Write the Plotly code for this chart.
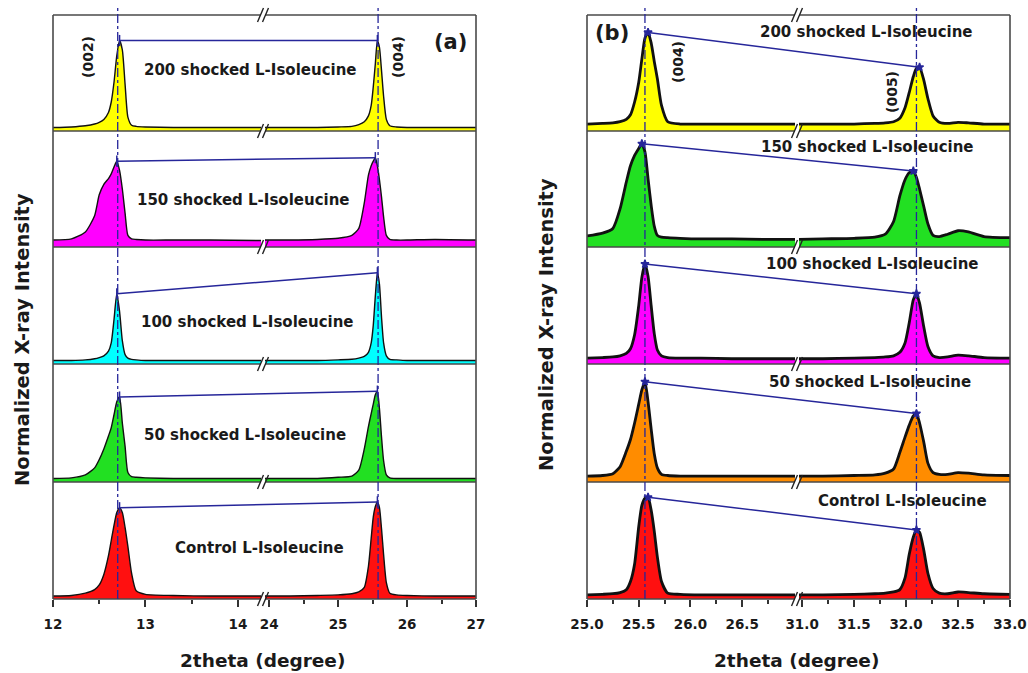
import numpy as np
import plotly.graph_objects as go

W, H = 1028, 673

# ---------------- data (normalized intensity within each stacked sub-panel) ----------------
SAMPLES = ["200 shocked L-Isoleucine", "150 shocked L-Isoleucine", "100 shocked L-Isoleucine",
           "50 shocked L-Isoleucine", "Control L-Isoleucine"]
COLORS_A = ["#ffff00", "#ff00ff", "#00ffff", "#22e022", "#ff1010"]
COLORS_B = ["#ffff00", "#22e022", "#ff00ff", "#ff8c00", "#ff1010"]

# panel (a), low-angle segment
XA_L = [12.00, 12.20, 12.35, 12.45, 12.50, 12.55, 12.60, 12.63, 12.66, 12.69, 12.72, 12.75, 12.78,
        12.81, 12.85, 12.90, 13.00, 13.30, 13.70, 14.30]
A200_L = [0.03, 0.035, 0.045, 0.06, 0.075, 0.10, 0.16, 0.25, 0.42, 0.65, 0.78, 0.70, 0.40, 0.12, 0.05, 0.04, 0.035, 0.03, 0.03, 0.03]
A150_L = [0.06, 0.07, 0.13, 0.27, 0.45, 0.54, 0.59, 0.63, 0.69, 0.74, 0.66, 0.50, 0.29, 0.10, 0.07, 0.065, 0.06, 0.06, 0.06, 0.055]
A100_L = [0.03, 0.03, 0.035, 0.045, 0.055, 0.07, 0.11, 0.18, 0.38, 0.60, 0.45, 0.20, 0.08, 0.05, 0.04, 0.035, 0.03, 0.03, 0.03, 0.03]
A50_L = [0.03, 0.035, 0.06, 0.12, 0.19, 0.28, 0.39, 0.46, 0.57, 0.68, 0.72, 0.50, 0.30, 0.08, 0.045, 0.04, 0.035, 0.03, 0.03, 0.03]
A0_L = [0.025, 0.03, 0.05, 0.08, 0.12, 0.21, 0.37, 0.50, 0.63, 0.74, 0.78, 0.74, 0.61, 0.45, 0.22, 0.07, 0.04, 0.03, 0.025, 0.025]

# panel (a), high-angle segment
XA_R = [23.90, 24.30, 24.70, 25.00, 25.20, 25.30, 25.38, 25.44, 25.48, 25.51, 25.54, 25.57, 25.60,
        25.63, 25.66, 25.70, 25.75, 25.85, 26.00, 26.40, 27.00]
A200_R = [0.03, 0.03, 0.03, 0.035, 0.04, 0.055, 0.08, 0.13, 0.22, 0.38, 0.58, 0.78, 0.72, 0.52, 0.30, 0.10, 0.045, 0.035, 0.03, 0.03, 0.03]
A150_R = [0.06, 0.06, 0.065, 0.075, 0.10, 0.16, 0.38, 0.62, 0.70, 0.74, 0.77, 0.70, 0.58, 0.43, 0.26, 0.10, 0.065, 0.06, 0.06, 0.065, 0.06]
A100_R = [0.03, 0.03, 0.03, 0.035, 0.04, 0.05, 0.065, 0.10, 0.18, 0.33, 0.58, 0.78, 0.68, 0.40, 0.18, 0.07, 0.04, 0.035, 0.03, 0.03, 0.03]
A50_R = [0.03, 0.03, 0.03, 0.04, 0.05, 0.10, 0.28, 0.47, 0.58, 0.66, 0.74, 0.77, 0.62, 0.38, 0.18, 0.06, 0.035, 0.03, 0.03, 0.03, 0.03]
A0_R = [0.025, 0.025, 0.03, 0.035, 0.045, 0.06, 0.10, 0.28, 0.52, 0.70, 0.79, 0.83, 0.78, 0.60, 0.38, 0.14, 0.05, 0.035, 0.03, 0.025, 0.025]

# panel (b), low-angle segment
XB_L = [25.00, 25.15, 25.25, 25.32, 25.38, 25.42, 25.46, 25.50, 25.53, 25.56, 25.59, 25.62, 25.65,
        25.68, 25.72, 25.78, 25.90, 26.10, 26.40, 26.70, 27.05]
B200_L = [0.06, 0.065, 0.07, 0.08, 0.10, 0.14, 0.25, 0.42, 0.62, 0.80, 0.85, 0.76, 0.60, 0.45, 0.22, 0.08, 0.06, 0.06, 0.06, 0.06, 0.06]
B150_L = [0.095, 0.12, 0.16, 0.33, 0.56, 0.70, 0.79, 0.85, 0.89, 0.82, 0.59, 0.36, 0.18, 0.10, 0.085, 0.08, 0.075, 0.07, 0.07, 0.065, 0.065]
B100_L = [0.05, 0.055, 0.06, 0.07, 0.09, 0.13, 0.25, 0.50, 0.74, 0.855, 0.75, 0.50, 0.26, 0.12, 0.07, 0.055, 0.05, 0.05, 0.045, 0.045, 0.045]
B50_L = [0.05, 0.055, 0.07, 0.13, 0.26, 0.36, 0.50, 0.66, 0.78, 0.85, 0.68, 0.45, 0.24, 0.12, 0.065, 0.055, 0.05, 0.05, 0.05, 0.05, 0.05]
B0_L = [0.035, 0.04, 0.045, 0.055, 0.08, 0.15, 0.30, 0.62, 0.80, 0.86, 0.87, 0.76, 0.58, 0.36, 0.15, 0.05, 0.04, 0.035, 0.035, 0.035, 0.035]

# panel (b), high-angle segment
XB_R = [30.90, 31.20, 31.50, 31.70, 31.80, 31.88, 31.94, 31.99, 32.03, 32.07, 32.10, 32.13, 32.17,
        32.21, 32.26, 32.32, 32.40, 32.50, 32.60, 32.75, 33.00]
B200_R = [0.06, 0.06, 0.06, 0.065, 0.07, 0.08, 0.11, 0.20, 0.33, 0.47, 0.54, 0.55, 0.44, 0.28, 0.13, 0.075, 0.065, 0.075, 0.07, 0.06, 0.06]
B150_R = [0.065, 0.07, 0.075, 0.085, 0.11, 0.22, 0.44, 0.58, 0.64, 0.655, 0.60, 0.50, 0.35, 0.20, 0.10, 0.09, 0.11, 0.14, 0.13, 0.09, 0.08]
B100_R = [0.045, 0.045, 0.05, 0.055, 0.06, 0.07, 0.10, 0.18, 0.35, 0.55, 0.60, 0.52, 0.32, 0.15, 0.07, 0.055, 0.06, 0.075, 0.07, 0.055, 0.05]
B50_R = [0.05, 0.05, 0.055, 0.06, 0.075, 0.11, 0.25, 0.38, 0.48, 0.56, 0.58, 0.50, 0.34, 0.16, 0.08, 0.065, 0.065, 0.08, 0.075, 0.06, 0.055]
B0_R = [0.035, 0.035, 0.04, 0.045, 0.05, 0.06, 0.08, 0.18, 0.38, 0.53, 0.59, 0.57, 0.42, 0.22, 0.09, 0.05, 0.045, 0.06, 0.055, 0.045, 0.04]

DASH_A = [12.70, 25.58]
DASH_B = [25.56, 32.10]
HKL_A = ["(002)", "(004)"]
HKL_B = ["(004)", "(005)"]

TICKS_A_L = [12, 13, 14]
TICKS_A_R = [24, 25, 26, 27]
MINOR_A_L = [12.5, 13.5]
MINOR_A_R = [24.5, 25.5, 26.5]
TICKS_B_L = [25.0, 25.5, 26.0, 26.5]
TICKS_B_R = [31.0, 31.5, 32.0, 32.5, 33.0]
MINOR_B_L = [25.25, 25.75, 26.25, 26.75]
MINOR_B_R = [31.25, 31.75, 32.25, 32.75]

# ---------------- geometry / style ----------------
FONT = "DejaVu Sans"
INK = "#1a1a1a"
NAVY = "#26269a"
FRAME = "#4a4a4a"
ROW_EDGES = [15, 131, 247, 364, 482, 599]   # pixel y of sub-panel borders, top to bottom

# axis name: (pixel start, pixel end, range start, range end)
GEOM = {
    "x": (53, 261, 12.0, 14.25),
    "x2": (265, 476, 23.94, 27.0),
    "x3": (587, 795, 25.0, 27.01),
    "x4": (799, 1010, 30.97, 33.0),
}


def fx(px):
    return px / W


def fy(py):
    return 1 - py / H


def xpaper(ax, v):
    p0, p1, r0, r1 = GEOM[ax]
    return fx(p0 + (v - r0) / (r1 - r0) * (p1 - p0))


PANELS = [
    dict(xl="x", xr="x2", xs=(XA_L, XA_R), colors=COLORS_A, lw=1.4, yoff=0,
         rows=[(A200_L, A200_R), (A150_L, A150_R), (A100_L, A100_R), (A50_L, A50_R), (A0_L, A0_R)]),
    dict(xl="x3", xr="x4", xs=(XB_L, XB_R), colors=COLORS_B, lw=2.8, yoff=5,
         rows=[(B200_L, B200_R), (B150_L, B150_R), (B100_L, B100_R), (B50_L, B50_R), (B0_L, B0_R)]),
]

fig = go.Figure()
shapes = []
annotations = []
layout = {}


def yname(i):
    return "y" if i == 1 else f"y{i}"


for pi, P in enumerate(PANELS):
    for r, (yl, yr) in enumerate(P["rows"]):
        yn = yname(P["yoff"] + r + 1)
        for ax, xs, ys in ((P["xl"], P["xs"][0], yl), (P["xr"], P["xs"][1], yr)):
            fig.add_trace(go.Scatter(
                x=xs, y=ys, xaxis=ax, yaxis=yn, mode="lines",
                line=dict(color="#111111", width=P["lw"], shape="spline", smoothing=0.6),
                fill="tozeroy", fillcolor=P["colors"][r], hoverinfo="skip", showlegend=False))
        # connector between the two peak maxima
        i1 = int(np.argmax(yl))
        i2 = int(np.argmax(yr))
        x1, h1 = P["xs"][0][i1], yl[i1]
        x2, h2 = P["xs"][1][i2], yr[i2]
        shapes.append(dict(type="line", xref="paper", yref=yn,
                           x0=xpaper(P["xl"], x1), y0=h1, x1=xpaper(P["xr"], x2), y1=h2,
                           line=dict(color=NAVY, width=1.5), layer="above"))
        sym = "line-ns" if pi == 0 else "star"
        for ax, xv, hv in ((P["xl"], x1, h1), (P["xr"], x2, h2)):
            fig.add_trace(go.Scatter(x=[xv], y=[hv], xaxis=ax, yaxis=yn, mode="markers",
                                     marker=dict(symbol=sym, size=6 if pi else 8, color=NAVY,
                                                 line=dict(color=NAVY, width=1.5)),
                                     hoverinfo="skip", showlegend=False))
        # y axis for this row
        key = "yaxis" if yn == "y" else "yaxis" + yn[1:]
        layout[key] = dict(domain=[fy(ROW_EDGES[r + 1]), fy(ROW_EDGES[r])], range=[0, 1],
                           visible=False, anchor=P["xl"], fixedrange=True, automargin=False)

# x axes
bottom_a = yname(5)
bottom_b = yname(10)
XCFG = [
    ("x", bottom_a, TICKS_A_L, MINOR_A_L, "{:d}"),
    ("x2", bottom_a, TICKS_A_R, MINOR_A_R, "{:d}"),
    ("x3", bottom_b, TICKS_B_L, MINOR_B_L, "{:.1f}"),
    ("x4", bottom_b, TICKS_B_R, MINOR_B_R, "{:.1f}"),
]
for ax, anch, tv, mv, fmt in XCFG:
    p0, p1, r0, r1 = GEOM[ax]
    key = "xaxis" if ax == "x" else "xaxis" + ax[1:]
    layout[key] = dict(
        domain=[fx(p0), fx(p1)], range=[r0, r1], anchor=anch, automargin=False,
        showline=False, showgrid=False, zeroline=False,
        tickmode="array", tickvals=tv, ticktext=[fmt.format(v) for v in tv],
        ticks="outside", ticklen=7, tickwidth=1.5, tickcolor="#333333",
        ticklabelstandoff=6,
        minor=dict(tickmode="array", tickvals=mv, ticks="outside", ticklen=4,
                   tickwidth=1.5, tickcolor="#333333", showgrid=False),
        tickfont=dict(family=FONT, size=13.5, color=INK, weight="bold"),
        fixedrange=True)

# frames, sub-panel borders and axis-break marks
for P in PANELS:
    L0 = GEOM[P["xl"]][0]
    L1 = GEOM[P["xl"]][1]
    R0 = GEOM[P["xr"]][0]
    R1 = GEOM[P["xr"]][1]
    for xe in (L0, R1):
        shapes.append(dict(type="line", xref="paper", yref="paper",
                           x0=fx(xe), x1=fx(xe), y0=fy(ROW_EDGES[0]), y1=fy(ROW_EDGES[-1]),
                           line=dict(color=FRAME, width=1.6)))
    bx = (L1 + R0) / 2
    for ye in ROW_EDGES:
        for a, b in ((L0, L1), (R0, R1)):
            shapes.append(dict(type="line", xref="paper", yref="paper",
                               x0=fx(a), x1=fx(b), y0=fy(ye), y1=fy(ye),
                               line=dict(color=FRAME, width=1.6)))
        for off in (-2.5, 2.5):
            shapes.append(dict(type="line", xref="paper", yref="paper",
                               x0=fx(bx + off - 3), y0=fy(ye + 7),
                               x1=fx(bx + off + 3), y1=fy(ye - 7),
                               line=dict(color="#222222", width=1.4)))

# vertical dash-dot guide lines at the peak positions
for ax, v in (("x", DASH_A[0]), ("x2", DASH_A[1]), ("x3", DASH_B[0]), ("x4", DASH_B[1])):
    shapes.append(dict(type="line", xref=ax, yref="paper", x0=v, x1=v,
                       y0=fy(ROW_EDGES[-1]), y1=fy(7),
                       line=dict(color=NAVY, width=1.3, dash="dashdot")))


def ann(text, px, py, size, bold=True, angle=0):
    annotations.append(dict(text=text, x=fx(px), y=fy(py), xref="paper", yref="paper",
                            xanchor="center", yanchor="middle", showarrow=False, textangle=angle,
                            font=dict(family=FONT, size=size, color=INK,
                                      weight="bold" if bold else "normal")))


POS_LABEL_A = [(250, 70), (243, 200), (247, 322), (245, 435), (259, 548)]
POS_LABEL_B = [(866, 32), (867, 147), (872, 264), (870, 382), (902, 501)]
for s, (px, py) in zip(SAMPLES, POS_LABEL_A):
    ann(s, px, py, 15)
for s, (px, py) in zip(SAMPLES, POS_LABEL_B):
    ann(s, px, py, 15)

ann(HKL_A[0], 88, 57, 14, angle=-90)
ann(HKL_A[1], 398, 57, 14, angle=-90)
ann(HKL_B[0], 678, 62, 14, angle=-90)
ann(HKL_B[1], 892, 92, 14, angle=-90)

ann("(a)", 450, 42, 21)
ann("(b)", 612, 33, 21)

ann("2theta (degree)", 262, 660, 18.5)
ann("2theta (degree)", 796, 660, 18.5)
ann("Normalized X-ray Intensity", 22, 340, 19.5, angle=-90)
ann("Normalized X-ray Intensity", 546, 325, 19.5, angle=-90)

fig.update_layout(
    template="none",
    width=W, height=H, margin=dict(l=0, r=0, t=0, b=0, pad=0), autosize=False,
    paper_bgcolor="white", plot_bgcolor="white",
    showlegend=False, shapes=shapes, annotations=annotations, **layout)

fig.write_html("out.html")
